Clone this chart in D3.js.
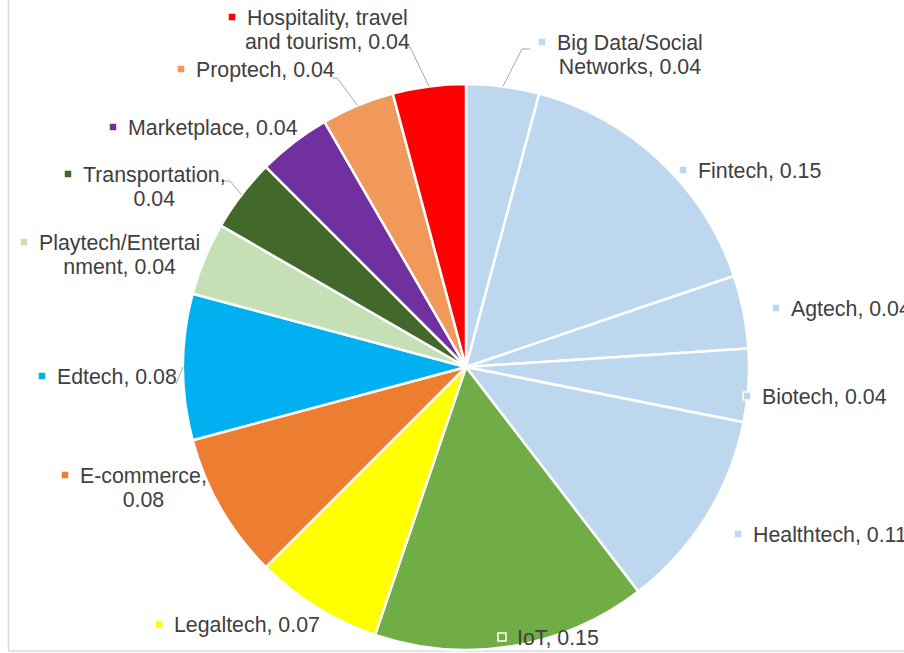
<!DOCTYPE html>
<html>
<head>
<meta charset="utf-8">
<script src="https://cdn.jsdelivr.net/npm/d3@7"></script>
<style>
  html, body { margin: 0; padding: 0; background: #ffffff; }
  svg { display: block; }
  text { font-family: "Liberation Sans", Arial, sans-serif; }
</style>
</head>
<body>
<svg id="chart" width="904" height="653"></svg>
<script>
// Sectors, clockwise from 12 o'clock
const categories = [
  "Big Data/Social Networks", "Fintech", "Agtech", "Biotech", "Healthtech",
  "IoT", "Legaltech", "E-commerce", "Edtech", "Playtech/Entertainment",
  "Transportation", "Marketplace", "Proptech", "Hospitality, travel and tourism"
];
const shares = [0.04, 0.15, 0.04, 0.04, 0.11, 0.15, 0.07, 0.08, 0.08, 0.04, 0.04, 0.04, 0.04, 0.04];
const sliceColors = [
  "#BDD7EE", "#BDD7EE", "#BDD7EE", "#BDD7EE", "#BDD7EE",
  "#70AD47", "#FFFF00", "#ED7D31", "#00B0F0", "#C5E0B4",
  "#43682B", "#7030A0", "#F0995A", "#FF0000"
];
// Text lines of each data label (name wrapped as in the chart)
const labelNames = [
  ["Big Data/Social", "Networks, "], ["Fintech, "], ["Agtech, "], ["Biotech, "], ["Healthtech, "],
  ["IoT, "], ["Legaltech, "], ["E-commerce,", ""], ["Edtech, "], ["Playtech/Entertai", "nment, "],
  ["Transportation,", ""], ["Marketplace, "], ["Proptech, "], ["Hospitality, travel", "and tourism, "]
];

// Label placement: left x of first line, baseline of first line
const labelPos = [
  [557, 50], [698, 178], [791, 316], [762, 404], [753, 542],
  [517, 645], [174, 632], [80, 483], [57, 384], [39, 250],
  [83, 182], [128, 135], [196, 77], [247, 25]
];
// Leader lines: start point and elbow (null = no leader)
const leaders = [
  [[530, 49], [522, 49]], null, null, null, null,
  null, null, null, [[176, 384], null], null,
  [[223, 181], [230, 181]], null, [[332, 78], [337, 78]], [[405, 47], [410, 47]]
];

const W = 904, H = 653;
const cx = 466, cy = 367, R = 283;
const fontSize = 21.33, lineH = 23.5;
const fmt = d3.format(".2f");

const svg = d3.select("#chart");

// chart-area frame
svg.append("line").attr("x1", 8.5).attr("x2", 8.5).attr("y1", 0).attr("y2", 651)
  .attr("stroke", "#d9d9d9").attr("stroke-width", 1.5);
svg.append("line").attr("x1", 8).attr("x2", W).attr("y1", 651).attr("y2", 651)
  .attr("stroke", "#d9d9d9").attr("stroke-width", 1.5);

const data = categories.map((c, i) => ({ name: c, value: shares[i], i }));
const pie = d3.pie().value(d => d.value).sort(null);
const arcs = pie(data);
const arc = d3.arc().innerRadius(0).outerRadius(R);
const edge = d3.arc().innerRadius(R).outerRadius(R);

const g = svg.append("g").attr("transform", `translate(${cx},${cy})`);

// leader lines (under the pie)
const leaderG = svg.append("g");
arcs.forEach((a, i) => {
  const L = leaders[i];
  if (!L) return;
  const p = edge.centroid(a);
  const end = [cx + p[0], cy + p[1]];
  const pts = [L[0]];
  if (L[1]) pts.push(L[1]);
  pts.push(end);
  leaderG.append("path")
    .attr("d", d3.line()(pts))
    .attr("fill", "none")
    .attr("stroke", "#a6a6a6")
    .attr("stroke-width", 1);
});

// slices
g.selectAll("path.slice")
  .data(arcs)
  .join("path")
  .attr("class", "slice")
  .attr("d", arc)
  .attr("fill", (d, i) => sliceColors[i])
  .attr("stroke", "#ffffff")
  .attr("stroke-width", 2.5)
  .attr("stroke-linejoin", "round");

// data labels with legend keys
const labG = svg.append("g");
arcs.forEach((a, i) => {
  const lines = labelNames[i].slice();
  lines[lines.length - 1] = lines[lines.length - 1] + fmt(shares[i]);
  const [lx, by] = labelPos[i];
  const grp = labG.append("g");
  // first line measured to find block centre
  const t0 = grp.append("text")
    .attr("x", lx).attr("y", by)
    .attr("font-size", fontSize)
    .attr("fill", "#404040")
    .text(lines[0]);
  const w0 = t0.node().getComputedTextLength();
  if (lines.length > 1) {
    const mid = lx + w0 / 2;
    t0.attr("x", mid).attr("text-anchor", "middle");
    for (let k = 1; k < lines.length; k++) {
      grp.append("text")
        .attr("x", mid).attr("y", by + k * lineH)
        .attr("text-anchor", "middle")
        .attr("font-size", fontSize)
        .attr("fill", "#404040")
        .text(lines[k]);
    }
  }
  grp.append("rect")
    .attr("x", lx - 19).attr("y", by - 12)
    .attr("width", 8).attr("height", 8)
    .attr("fill", sliceColors[i])
    .attr("stroke", "#ffffff")
    .attr("stroke-width", 1.5);
});
</script>
</body>
</html>
